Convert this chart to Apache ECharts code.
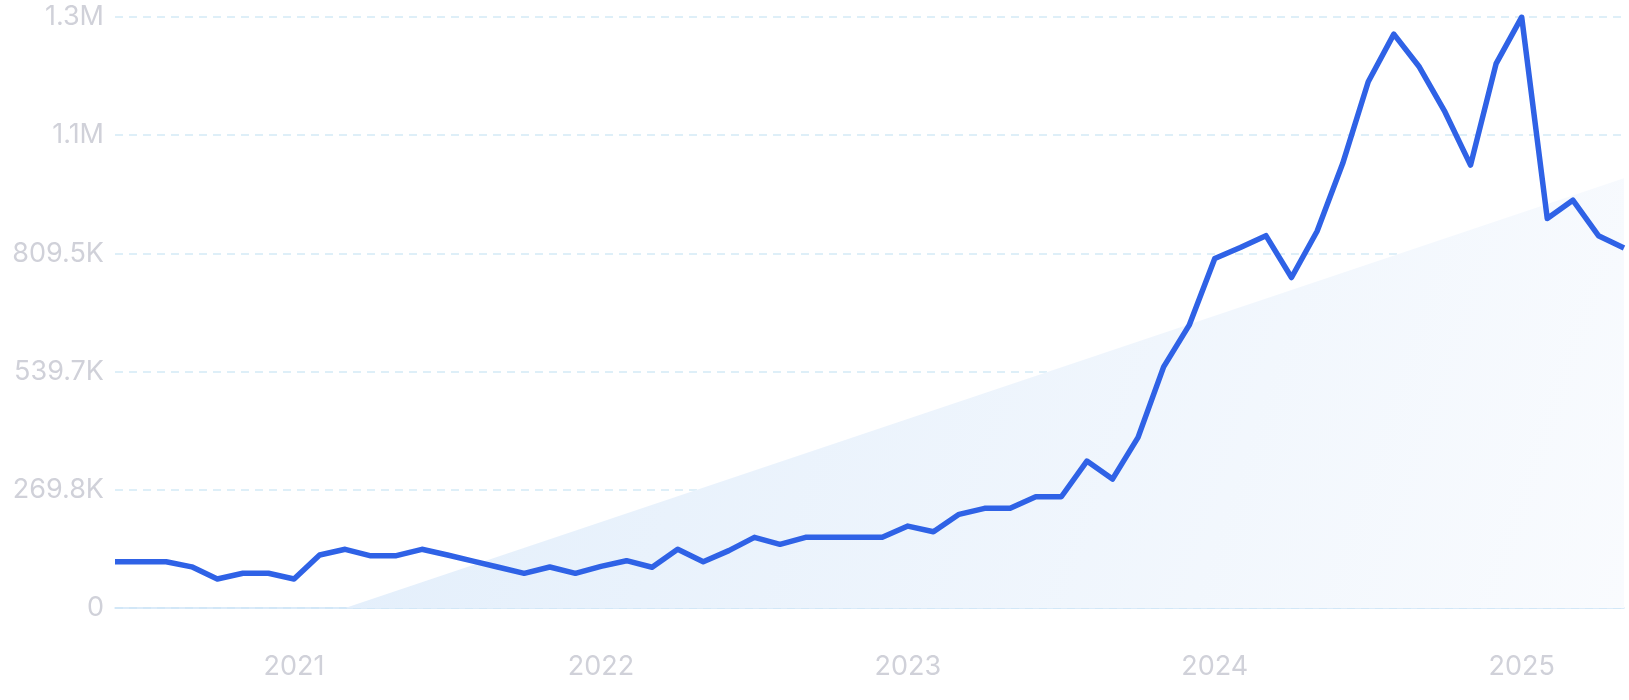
<!DOCTYPE html>
<html lang="en">
  <head>
    <meta charset="UTF-8" />
    <title>Interest over time</title>
    <style>
      html,
      body {
        margin: 0;
        padding: 0;
        background: #fff;
      }

      #mainCharts {
        width: 1629px;
        height: 700px;
      }
    </style>
    <script src="https://cdn.jsdelivr.net/npm/echarts@6/dist/echarts.min.js"></script>
  </head>
  <body>
    <div id="mainCharts"></div>
    <script>
      // monthly points, Jun 2020 .. May 2025
      const months = [
        '2020-06', '2020-07', '2020-08', '2020-09', '2020-10', '2020-11', '2020-12',
        '2021-01', '2021-02', '2021-03', '2021-04', '2021-05', '2021-06',
        '2021-07', '2021-08', '2021-09', '2021-10', '2021-11', '2021-12',
        '2022-01', '2022-02', '2022-03', '2022-04', '2022-05', '2022-06',
        '2022-07', '2022-08', '2022-09', '2022-10', '2022-11', '2022-12',
        '2023-01', '2023-02', '2023-03', '2023-04', '2023-05', '2023-06',
        '2023-07', '2023-08', '2023-09', '2023-10', '2023-11', '2023-12',
        '2024-01', '2024-02', '2024-03', '2024-04', '2024-05', '2024-06',
        '2024-07', '2024-08', '2024-09', '2024-10', '2024-11', '2024-12',
        '2025-01', '2025-02', '2025-03', '2025-04', '2025-05'
      ]

      const volume = [
        105600, 105600, 105600, 94000, 66200, 79200, 79200,
        66200, 120900, 134000, 119000, 119500, 134000,
        121000, 107000, 93000, 79200, 93500, 79200,
        95000, 108000, 93000, 134000, 105600, 131000,
        161300, 145300, 161300, 161300, 161300, 161300,
        187000, 174000, 213800, 227500, 227500, 254000,
        254000, 335400, 294300, 389500, 550600, 645700,
        797900, 823000, 850000, 754500, 860000, 1014600,
        1201500, 1310000, 1235000, 1132400, 1011000, 1242800,
        1349000, 889000, 931000, 850000, 822000
      ]

      // trend line: [month index, value] at both ends
      const trendStart = [9, 0]
      const trendEnd = [59, 981000]

      const yTickLabels = ['0', '269.8K', '539.7K', '809.5K', '1.1M', '1.3M']
      const yStep = 269840

      const labelFont = {
        color: '#d0d1d9',
        fontFamily: 'Inter',
        fontWeight: 'normal',
        fontSize: 27
      }

      function initEchart(el) {
        const myChart = echarts.init(el, null, { renderer: 'canvas' })

        const option = {
          animation: false,
          grid: {
            left: 115,
            right: 5,
            top: 17,
            bottom: 92,
            containLabel: false,
            outerBoundsMode: 'none'
          },
          xAxis: {
            type: 'category',
            data: months,
            boundaryGap: false,
            axisLine: { lineStyle: { color: '#cfe5f7', width: 1.5 } },
            axisTick: { show: false },
            splitLine: { show: false },
            axisLabel: Object.assign({}, labelFont, {
              margin: 45,
              interval: (i, v) => v.endsWith('-01'),
              formatter: v => v.slice(0, 4)
            })
          },
          yAxis: {
            type: 'value',
            min: 0,
            max: yStep * 5,
            interval: yStep,
            axisLine: { show: false },
            axisTick: { show: false },
            splitLine: {
              lineStyle: { color: '#d3eaf6', type: [8, 6], width: 1.5 }
            },
            axisLabel: Object.assign({}, labelFont, {
              margin: 11,
              formatter: v => yTickLabels[Math.round(v / yStep)]
            })
          },
          series: [
            {
              name: 'trend',
              type: 'line',
              data: [trendStart, trendEnd],
              symbol: 'none',
              silent: true,
              lineStyle: { width: 0 },
              areaStyle: {
                opacity: 1,
                color: new echarts.graphic.LinearGradient(0, 0, 1, 1, [
                  { offset: 0, color: '#e2eefb' },
                  { offset: 1, color: '#f9fbfe' }
                ])
              },
              z: 1
            },
            {
              name: 'volume',
              type: 'line',
              data: volume,
              symbol: 'none',
              lineStyle: { color: '#2f62e6', width: 5.5, join: 'round' },
              z: 3
            }
          ]
        }

        myChart.setOption(option)
      }

      initEchart(document.getElementById('mainCharts'))
    </script>
  </body>
</html>
